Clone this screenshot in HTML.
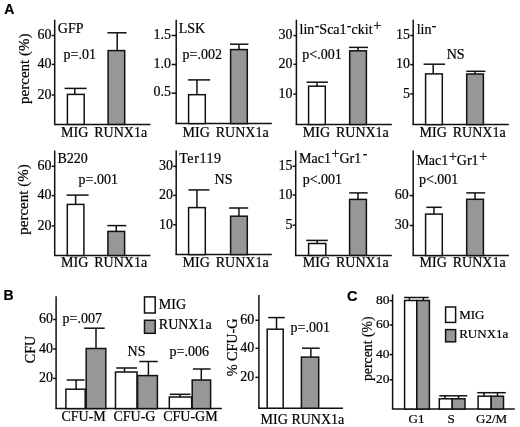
<!DOCTYPE html>
<html><head><meta charset="utf-8"><style>
html,body{margin:0;padding:0;background:#fff;width:520px;height:427px;overflow:hidden}
svg{display:block}
text{font-family:"Liberation Serif",serif;fill:#000;stroke:#000;stroke-width:0.2px}
.pl{font-family:"Liberation Sans",sans-serif;font-weight:bold}
.sans{font-family:"Liberation Sans",sans-serif;stroke-width:0.15px}
line{stroke:#111}
rect{stroke:#111}
</style></head><body>
<svg width="520" height="427" viewBox="0 0 520 427">
<line x1="54.7" y1="19.7" x2="54.7" y2="124.4" stroke-width="1.5"/>
<line x1="53.95" y1="124.4" x2="150.4" y2="124.4" stroke-width="1.5"/>
<line x1="51.7" y1="35.5" x2="54.7" y2="35.5" stroke-width="1.5"/>
<text x="51.5" y="39.3" font-size="14" text-anchor="end">60</text>
<line x1="51.7" y1="64.4" x2="54.7" y2="64.4" stroke-width="1.5"/>
<text x="51.5" y="68.2" font-size="14" text-anchor="end">40</text>
<line x1="51.7" y1="95.0" x2="54.7" y2="95.0" stroke-width="1.5"/>
<text x="51.5" y="98.8" font-size="14" text-anchor="end">20</text>
<line x1="74.8" y1="88.4" x2="74.8" y2="94.4" stroke-width="1.5"/>
<line x1="64.6" y1="88.4" x2="86.6" y2="88.4" stroke-width="1.5"/>
<rect x="67.4" y="94.4" width="16.8" height="30.0" fill="#fff" stroke-width="1.5"/>
<line x1="117.2" y1="32.8" x2="117.2" y2="50.6" stroke-width="1.5"/>
<line x1="107.4" y1="32.8" x2="126.6" y2="32.8" stroke-width="1.5"/>
<rect x="108.1" y="50.6" width="16.6" height="73.8" fill="#979797" stroke-width="1.5"/>
<text x="57.8" y="32.6" font-size="14" text-anchor="start">GFP</text>
<text x="63.6" y="58.9" font-size="14" text-anchor="start">p=.01</text>
<line x1="176.2" y1="19.7" x2="176.2" y2="123.6" stroke-width="1.5"/>
<line x1="175.45" y1="123.6" x2="271.8" y2="123.6" stroke-width="1.5"/>
<line x1="171.6" y1="35.5" x2="176.2" y2="35.5" stroke-width="1.5"/>
<text x="170.9" y="38.5" font-size="14" text-anchor="end">1.5</text>
<line x1="171.6" y1="64.5" x2="176.2" y2="64.5" stroke-width="1.5"/>
<text x="170.9" y="67.5" font-size="14" text-anchor="end">1.0</text>
<line x1="171.6" y1="93.2" x2="176.2" y2="93.2" stroke-width="1.5"/>
<text x="170.9" y="96.2" font-size="14" text-anchor="end">0.5</text>
<line x1="196.95" y1="79.9" x2="196.95" y2="94.7" stroke-width="1.5"/>
<line x1="187.9" y1="79.9" x2="210.2" y2="79.9" stroke-width="1.5"/>
<rect x="188.6" y="94.7" width="16.7" height="28.9" fill="#fff" stroke-width="1.5"/>
<line x1="238.95" y1="44.2" x2="238.95" y2="49.6" stroke-width="1.5"/>
<line x1="230" y1="44.2" x2="248.4" y2="44.2" stroke-width="1.5"/>
<rect x="230.6" y="49.6" width="16.7" height="74.0" fill="#979797" stroke-width="1.5"/>
<text x="178.7" y="32.6" font-size="14" text-anchor="start">LSK</text>
<text x="182.6" y="58.7" font-size="14" text-anchor="start">p=.002</text>
<line x1="296.4" y1="19.7" x2="296.4" y2="124.5" stroke-width="1.5"/>
<line x1="295.65" y1="124.5" x2="391.8" y2="124.5" stroke-width="1.5"/>
<line x1="293.4" y1="35.6" x2="296.4" y2="35.6" stroke-width="1.5"/>
<text x="292.4" y="39.4" font-size="14" text-anchor="end">30</text>
<line x1="293.4" y1="64.3" x2="296.4" y2="64.3" stroke-width="1.5"/>
<text x="292.4" y="68.1" font-size="14" text-anchor="end">20</text>
<line x1="293.4" y1="94.1" x2="296.4" y2="94.1" stroke-width="1.5"/>
<text x="292.4" y="97.9" font-size="14" text-anchor="end">10</text>
<line x1="316.95" y1="82.2" x2="316.95" y2="86.2" stroke-width="1.5"/>
<line x1="306.6" y1="82.2" x2="327.9" y2="82.2" stroke-width="1.5"/>
<rect x="308.6" y="86.2" width="16.7" height="38.3" fill="#fff" stroke-width="1.5"/>
<line x1="358.05" y1="47.4" x2="358.05" y2="50.8" stroke-width="1.5"/>
<line x1="349.1" y1="47.4" x2="368.0" y2="47.4" stroke-width="1.5"/>
<rect x="349.7" y="50.8" width="16.7" height="73.7" fill="#979797" stroke-width="1.5"/>
<text x="299.6" y="34.0" font-size="14" text-anchor="start">lin<tspan dy="-4.5" font-size="14" dx="0.3">-</tspan><tspan dy="4.5">Sca1</tspan><tspan dy="-4.5" font-size="14" dx="0.3">-</tspan><tspan dy="4.5">ckit</tspan><tspan dy="-4.5" font-size="14" dx="0.6">+</tspan></text>
<text x="302.3" y="58.8" font-size="14" text-anchor="start">p&lt;.001</text>
<line x1="413.2" y1="19.7" x2="413.2" y2="124.6" stroke-width="1.5"/>
<line x1="412.45" y1="124.6" x2="508.9" y2="124.6" stroke-width="1.5"/>
<line x1="410.2" y1="35.5" x2="413.2" y2="35.5" stroke-width="1.5"/>
<text x="410.0" y="39.3" font-size="14" text-anchor="end">15</text>
<line x1="410.2" y1="64.6" x2="413.2" y2="64.6" stroke-width="1.5"/>
<text x="410.0" y="68.4" font-size="14" text-anchor="end">10</text>
<line x1="410.2" y1="93.9" x2="413.2" y2="93.9" stroke-width="1.5"/>
<text x="410.0" y="97.7" font-size="14" text-anchor="end">5</text>
<line x1="433.2" y1="64.2" x2="433.2" y2="73.9" stroke-width="1.5"/>
<line x1="423.6" y1="64.2" x2="445.1" y2="64.2" stroke-width="1.5"/>
<rect x="425.6" y="73.9" width="16.7" height="50.7" fill="#fff" stroke-width="1.5"/>
<line x1="475.05" y1="71.3" x2="475.05" y2="74.0" stroke-width="1.5"/>
<line x1="466.3" y1="71.3" x2="485.4" y2="71.3" stroke-width="1.5"/>
<rect x="466.7" y="74.0" width="16.7" height="50.6" fill="#979797" stroke-width="1.5"/>
<text x="416.7" y="34.0" font-size="14" text-anchor="start">lin<tspan dy="-4.5" font-size="14" dx="0.3">-</tspan></text>
<text x="446.7" y="58.6" font-size="14" text-anchor="start">NS</text>
<text x="74.7" y="136.9" font-size="14" text-anchor="middle">MIG</text>
<text x="120.7" y="136.9" font-size="14" text-anchor="middle">RUNX1a</text>
<text x="196.2" y="136.9" font-size="14" text-anchor="middle">MIG</text>
<text x="242.2" y="136.9" font-size="14" text-anchor="middle">RUNX1a</text>
<text x="316.4" y="136.9" font-size="14" text-anchor="middle">MIG</text>
<text x="362.4" y="136.9" font-size="14" text-anchor="middle">RUNX1a</text>
<text x="433.2" y="136.9" font-size="14" text-anchor="middle">MIG</text>
<text x="479.2" y="136.9" font-size="14" text-anchor="middle">RUNX1a</text>
<line x1="54.7" y1="150.6" x2="54.7" y2="255.5" stroke-width="1.5"/>
<line x1="53.95" y1="255.5" x2="150.4" y2="255.5" stroke-width="1.5"/>
<line x1="51.7" y1="166.3" x2="54.7" y2="166.3" stroke-width="1.5"/>
<text x="51.5" y="170.1" font-size="14" text-anchor="end">60</text>
<line x1="51.7" y1="195.6" x2="54.7" y2="195.6" stroke-width="1.5"/>
<text x="51.5" y="199.4" font-size="14" text-anchor="end">40</text>
<line x1="51.7" y1="226" x2="54.7" y2="226" stroke-width="1.5"/>
<text x="51.5" y="229.8" font-size="14" text-anchor="end">20</text>
<line x1="75.6" y1="195.1" x2="75.6" y2="204.4" stroke-width="1.5"/>
<line x1="66.6" y1="195.1" x2="88.6" y2="195.1" stroke-width="1.5"/>
<rect x="67.3" y="204.4" width="16.6" height="51.1" fill="#fff" stroke-width="1.5"/>
<line x1="116.25" y1="225.6" x2="116.25" y2="231.4" stroke-width="1.5"/>
<line x1="107.4" y1="225.6" x2="126.3" y2="225.6" stroke-width="1.5"/>
<rect x="107.9" y="231.4" width="16.7" height="24.1" fill="#979797" stroke-width="1.5"/>
<text x="57.5" y="163.1" font-size="14" text-anchor="start">B220</text>
<text x="78.6" y="183.7" font-size="14" text-anchor="start">p=.001</text>
<line x1="176.2" y1="150.6" x2="176.2" y2="254.6" stroke-width="1.5"/>
<line x1="175.45" y1="254.6" x2="271.8" y2="254.6" stroke-width="1.5"/>
<line x1="173.2" y1="166.3" x2="176.2" y2="166.3" stroke-width="1.5"/>
<text x="173.0" y="170.1" font-size="14" text-anchor="end">30</text>
<line x1="173.2" y1="195.4" x2="176.2" y2="195.4" stroke-width="1.5"/>
<text x="173.0" y="199.2" font-size="14" text-anchor="end">20</text>
<line x1="173.2" y1="224.7" x2="176.2" y2="224.7" stroke-width="1.5"/>
<text x="173.0" y="228.5" font-size="14" text-anchor="end">10</text>
<line x1="196.95" y1="189.9" x2="196.95" y2="207.6" stroke-width="1.5"/>
<line x1="188.4" y1="189.9" x2="209.4" y2="189.9" stroke-width="1.5"/>
<rect x="188.6" y="207.6" width="16.7" height="47.0" fill="#fff" stroke-width="1.5"/>
<line x1="238.95" y1="208" x2="238.95" y2="216.2" stroke-width="1.5"/>
<line x1="229.1" y1="208" x2="248.2" y2="208" stroke-width="1.5"/>
<rect x="230.6" y="216.2" width="16.7" height="38.4" fill="#979797" stroke-width="1.5"/>
<text x="179.2" y="163" font-size="14" text-anchor="start" letter-spacing="0.6">Ter119</text>
<text x="214.6" y="184.2" font-size="14" text-anchor="start">NS</text>
<line x1="295.7" y1="150.6" x2="295.7" y2="255.4" stroke-width="1.5"/>
<line x1="294.95" y1="255.4" x2="391.8" y2="255.4" stroke-width="1.5"/>
<line x1="292.7" y1="166.3" x2="295.7" y2="166.3" stroke-width="1.5"/>
<text x="292.5" y="170.1" font-size="14" text-anchor="end">15</text>
<line x1="292.7" y1="195.0" x2="295.7" y2="195.0" stroke-width="1.5"/>
<text x="292.5" y="198.8" font-size="14" text-anchor="end">10</text>
<line x1="292.7" y1="225.2" x2="295.7" y2="225.2" stroke-width="1.5"/>
<text x="292.5" y="229.0" font-size="14" text-anchor="end">5</text>
<line x1="317.2" y1="240.4" x2="317.2" y2="243.5" stroke-width="1.5"/>
<line x1="306.2" y1="240.4" x2="327.8" y2="240.4" stroke-width="1.5"/>
<rect x="308.6" y="243.5" width="17.2" height="11.9" fill="#fff" stroke-width="1.5"/>
<line x1="358.0" y1="192.9" x2="358.0" y2="199.4" stroke-width="1.5"/>
<line x1="349.2" y1="192.9" x2="367.7" y2="192.9" stroke-width="1.5"/>
<rect x="349.6" y="199.4" width="16.8" height="56.0" fill="#979797" stroke-width="1.5"/>
<text x="299.0" y="162.5" font-size="14" text-anchor="start">Mac1<tspan dy="-4.5" font-size="14" dx="0.6">+</tspan><tspan dy="4.5">Gr1</tspan><tspan dy="-4.5" dx="1.6">-</tspan></text>
<text x="302.7" y="184.3" font-size="14" text-anchor="start">p&lt;.001</text>
<line x1="413.2" y1="150.6" x2="413.2" y2="255.6" stroke-width="1.5"/>
<line x1="412.45" y1="255.6" x2="508.9" y2="255.6" stroke-width="1.5"/>
<line x1="409.7" y1="195.6" x2="413.2" y2="195.6" stroke-width="1.5"/>
<text x="408.8" y="199.4" font-size="14" text-anchor="end">60</text>
<line x1="409.7" y1="225.5" x2="413.2" y2="225.5" stroke-width="1.5"/>
<text x="408.8" y="229.3" font-size="14" text-anchor="end">30</text>
<line x1="433.95" y1="207.3" x2="433.95" y2="214.1" stroke-width="1.5"/>
<line x1="426.3" y1="207.3" x2="441.8" y2="207.3" stroke-width="1.5"/>
<rect x="425.6" y="214.1" width="16.7" height="41.5" fill="#fff" stroke-width="1.5"/>
<line x1="475.05" y1="192.9" x2="475.05" y2="199.3" stroke-width="1.5"/>
<line x1="466.3" y1="192.9" x2="485.2" y2="192.9" stroke-width="1.5"/>
<rect x="466.7" y="199.3" width="16.7" height="56.3" fill="#979797" stroke-width="1.5"/>
<text x="416.4" y="165.2" font-size="14" text-anchor="start">Mac1<tspan dy="-3.8" dx="0.6">+</tspan><tspan dy="3.8">Gr1</tspan><tspan dy="-3.8" dx="0.6">+</tspan></text>
<text x="418.9" y="184.3" font-size="14" text-anchor="start">p&lt;.001</text>
<text x="74.7" y="267.2" font-size="14" text-anchor="middle">MIG</text>
<text x="120.7" y="267.2" font-size="14" text-anchor="middle">RUNX1a</text>
<text x="196.2" y="267.2" font-size="14" text-anchor="middle">MIG</text>
<text x="242.2" y="267.2" font-size="14" text-anchor="middle">RUNX1a</text>
<text x="316.4" y="267.2" font-size="14" text-anchor="middle">MIG</text>
<text x="362.4" y="267.2" font-size="14" text-anchor="middle">RUNX1a</text>
<text x="433.2" y="267.2" font-size="14" text-anchor="middle">MIG</text>
<text x="479.2" y="267.2" font-size="14" text-anchor="middle">RUNX1a</text>
<text x="0" y="0" font-size="15" text-anchor="middle" transform="translate(28.5,68.7) rotate(-90)">percent (%)</text>
<text x="0" y="0" font-size="15" text-anchor="middle" transform="translate(28.3,199.5) rotate(-90)">percent (%)</text>
<line x1="56.1" y1="296.3" x2="56.1" y2="408.6" stroke-width="1.5"/>
<line x1="55.35" y1="408.6" x2="221.9" y2="408.6" stroke-width="1.5"/>
<line x1="53.1" y1="319.5" x2="56.1" y2="319.5" stroke-width="1.5"/>
<text x="52.9" y="323.3" font-size="14" text-anchor="end">60</text>
<line x1="53.1" y1="349" x2="56.1" y2="349" stroke-width="1.5"/>
<text x="52.9" y="352.8" font-size="14" text-anchor="end">40</text>
<line x1="53.1" y1="378.4" x2="56.1" y2="378.4" stroke-width="1.5"/>
<text x="52.9" y="382.2" font-size="14" text-anchor="end">20</text>
<line x1="76.1" y1="380" x2="76.1" y2="389.2" stroke-width="1.5"/>
<line x1="66.7" y1="380" x2="84.6" y2="380" stroke-width="1.5"/>
<rect x="65.9" y="389.2" width="19.3" height="19.4" fill="#fff" stroke-width="1.5"/>
<line x1="96" y1="328.2" x2="96" y2="348.5" stroke-width="1.5"/>
<line x1="84" y1="328.2" x2="104.7" y2="328.2" stroke-width="1.5"/>
<rect x="86.2" y="348.5" width="19.6" height="60.1" fill="#979797" stroke-width="1.5"/>
<line x1="124.5" y1="368" x2="124.5" y2="372" stroke-width="1.5"/>
<line x1="116.2" y1="368" x2="137" y2="368" stroke-width="1.5"/>
<rect x="115.5" y="372" width="21.5" height="36.6" fill="#fff" stroke-width="1.5"/>
<line x1="148.4" y1="361.5" x2="148.4" y2="375.6" stroke-width="1.5"/>
<line x1="139.3" y1="361.5" x2="157.8" y2="361.5" stroke-width="1.5"/>
<rect x="137.6" y="375.6" width="19.8" height="33.0" fill="#979797" stroke-width="1.5"/>
<line x1="180" y1="394.3" x2="180" y2="397" stroke-width="1.5"/>
<line x1="169.8" y1="394.3" x2="190.4" y2="394.3" stroke-width="1.5"/>
<rect x="169.3" y="397" width="22.4" height="11.6" fill="#fff" stroke-width="1.5"/>
<line x1="201.3" y1="369" x2="201.3" y2="380" stroke-width="1.5"/>
<line x1="192.9" y1="369" x2="210.6" y2="369" stroke-width="1.5"/>
<rect x="192.2" y="380" width="18.4" height="28.6" fill="#979797" stroke-width="1.5"/>
<text x="62.6" y="322.9" font-size="14" text-anchor="start">p=.007</text>
<text x="127.6" y="356.3" font-size="14" text-anchor="start">NS</text>
<text x="169.6" y="356.1" font-size="14" text-anchor="start">p=.006</text>
<text x="61.4" y="421.2" font-size="14" text-anchor="start">CFU-M</text>
<text x="113.4" y="421.2" font-size="14" text-anchor="start">CFU-G</text>
<text x="163.2" y="421.2" font-size="14" text-anchor="start">CFU-GM</text>
<rect x="144.5" y="296.9" width="10.7" height="16.1" fill="#fff" stroke-width="1.5"/>
<rect x="144.5" y="320.3" width="10.7" height="13" fill="#979797" stroke-width="1.5"/>
<text x="158.8" y="308.7" font-size="14" text-anchor="start">MIG</text>
<text x="158.8" y="329.1" font-size="14" text-anchor="start">RUNX1a</text>
<text x="0" y="0" font-size="14" text-anchor="middle" transform="translate(35.2,349.6) rotate(-90)">CFU</text>
<line x1="258.9" y1="295" x2="258.9" y2="408.2" stroke-width="1.5"/>
<line x1="258.15" y1="408.2" x2="343" y2="408.2" stroke-width="1.5"/>
<line x1="255.4" y1="320.3" x2="258.9" y2="320.3" stroke-width="1.5"/>
<text x="254.2" y="324.1" font-size="14" text-anchor="end">60</text>
<line x1="255.4" y1="348.3" x2="258.9" y2="348.3" stroke-width="1.5"/>
<text x="254.2" y="352.1" font-size="14" text-anchor="end">40</text>
<line x1="255.4" y1="377.4" x2="258.9" y2="377.4" stroke-width="1.5"/>
<text x="254.2" y="381.2" font-size="14" text-anchor="end">20</text>
<line x1="276.5" y1="317.6" x2="276.5" y2="329.2" stroke-width="1.5"/>
<line x1="268.2" y1="317.6" x2="284.8" y2="317.6" stroke-width="1.5"/>
<rect x="267.2" y="329.2" width="16.0" height="79.0" fill="#fff" stroke-width="1.5"/>
<line x1="310.85" y1="348.2" x2="310.85" y2="357.1" stroke-width="1.5"/>
<line x1="302" y1="348.2" x2="319.7" y2="348.2" stroke-width="1.5"/>
<rect x="301.4" y="357.1" width="17.3" height="51.1" fill="#979797" stroke-width="1.5"/>
<text x="290.6" y="332.1" font-size="14" text-anchor="start">p=.001</text>
<text x="260.6" y="424.2" font-size="14" text-anchor="start">MIG</text>
<text x="291.4" y="424.2" font-size="14" text-anchor="start">RUNX1a</text>
<text x="0" y="0" font-size="14.2" text-anchor="middle" transform="translate(236.5,347.4) rotate(-90)">% CFU-G</text>
<line x1="392.6" y1="294.3" x2="392.6" y2="409" stroke-width="1.5"/>
<line x1="391.85" y1="409" x2="514.8" y2="409" stroke-width="1.5"/>
<line x1="389.6" y1="300.7" x2="392.6" y2="300.7" stroke-width="1.5"/>
<text x="389.4" y="303.7" font-size="13.5" text-anchor="end">80</text>
<line x1="389.6" y1="325" x2="392.6" y2="325" stroke-width="1.5"/>
<text x="389.4" y="328.0" font-size="13.5" text-anchor="end">60</text>
<line x1="389.6" y1="354.6" x2="392.6" y2="354.6" stroke-width="1.5"/>
<text x="389.4" y="357.6" font-size="13.5" text-anchor="end">40</text>
<line x1="389.6" y1="379.8" x2="392.6" y2="379.8" stroke-width="1.5"/>
<text x="389.4" y="382.8" font-size="13.5" text-anchor="end">20</text>
<line x1="409.4" y1="297.5" x2="409.4" y2="300.5" stroke-width="1.5"/>
<line x1="404.1" y1="297.5" x2="416.8" y2="297.5" stroke-width="1.5"/>
<rect x="404.6" y="300.5" width="12.2" height="108.5" fill="#fff" stroke-width="1.5"/>
<line x1="423.4" y1="297.5" x2="423.4" y2="300.5" stroke-width="1.5"/>
<line x1="416.8" y1="297.5" x2="428.7" y2="297.5" stroke-width="1.5"/>
<rect x="416.8" y="300.5" width="12.6" height="108.5" fill="#979797" stroke-width="1.5"/>
<line x1="445" y1="395.8" x2="445" y2="398.8" stroke-width="1.5"/>
<line x1="439.3" y1="395.8" x2="452.2" y2="395.8" stroke-width="1.5"/>
<rect x="439.3" y="398.8" width="12.9" height="10.2" fill="#fff" stroke-width="1.5"/>
<line x1="458.6" y1="395.8" x2="458.6" y2="398.8" stroke-width="1.5"/>
<line x1="452.2" y1="395.8" x2="467.3" y2="395.8" stroke-width="1.5"/>
<rect x="452.2" y="398.8" width="12.8" height="10.2" fill="#979797" stroke-width="1.5"/>
<line x1="484" y1="392.7" x2="484" y2="396.2" stroke-width="1.5"/>
<line x1="477.3" y1="392.7" x2="491.2" y2="392.7" stroke-width="1.5"/>
<rect x="478.1" y="396.2" width="13.1" height="12.8" fill="#fff" stroke-width="1.5"/>
<line x1="497.5" y1="392.7" x2="497.5" y2="396.2" stroke-width="1.5"/>
<line x1="491.2" y1="392.7" x2="505.8" y2="392.7" stroke-width="1.5"/>
<rect x="491.2" y="396.2" width="12.3" height="12.8" fill="#979797" stroke-width="1.5"/>
<rect x="445.6" y="307" width="10" height="15.4" fill="#fff" stroke-width="1.5"/>
<rect x="445.6" y="329.6" width="10" height="12.2" fill="#979797" stroke-width="1.5"/>
<text x="459.2" y="318.6" font-size="13" text-anchor="start">MIG</text>
<text x="459.2" y="337.9" font-size="13" text-anchor="start">RUNX1a</text>
<text x="408.6" y="423.4" font-size="13" text-anchor="start">G1</text>
<text x="447.6" y="423" font-size="13" text-anchor="start">S</text>
<text x="476" y="423" font-size="13" text-anchor="start">G2/M</text>
<text x="0" y="0" font-size="13.8" text-anchor="middle" transform="translate(371.6,348.7) rotate(-90)">percent (%)</text>
<text x="4.2" y="13.7" font-size="14" class="pl">A</text>
<text x="3.6" y="299.9" font-size="14" class="pl">B</text>
<text x="347.0" y="301" font-size="14.5" class="pl">C</text>
</svg>
</body></html>
